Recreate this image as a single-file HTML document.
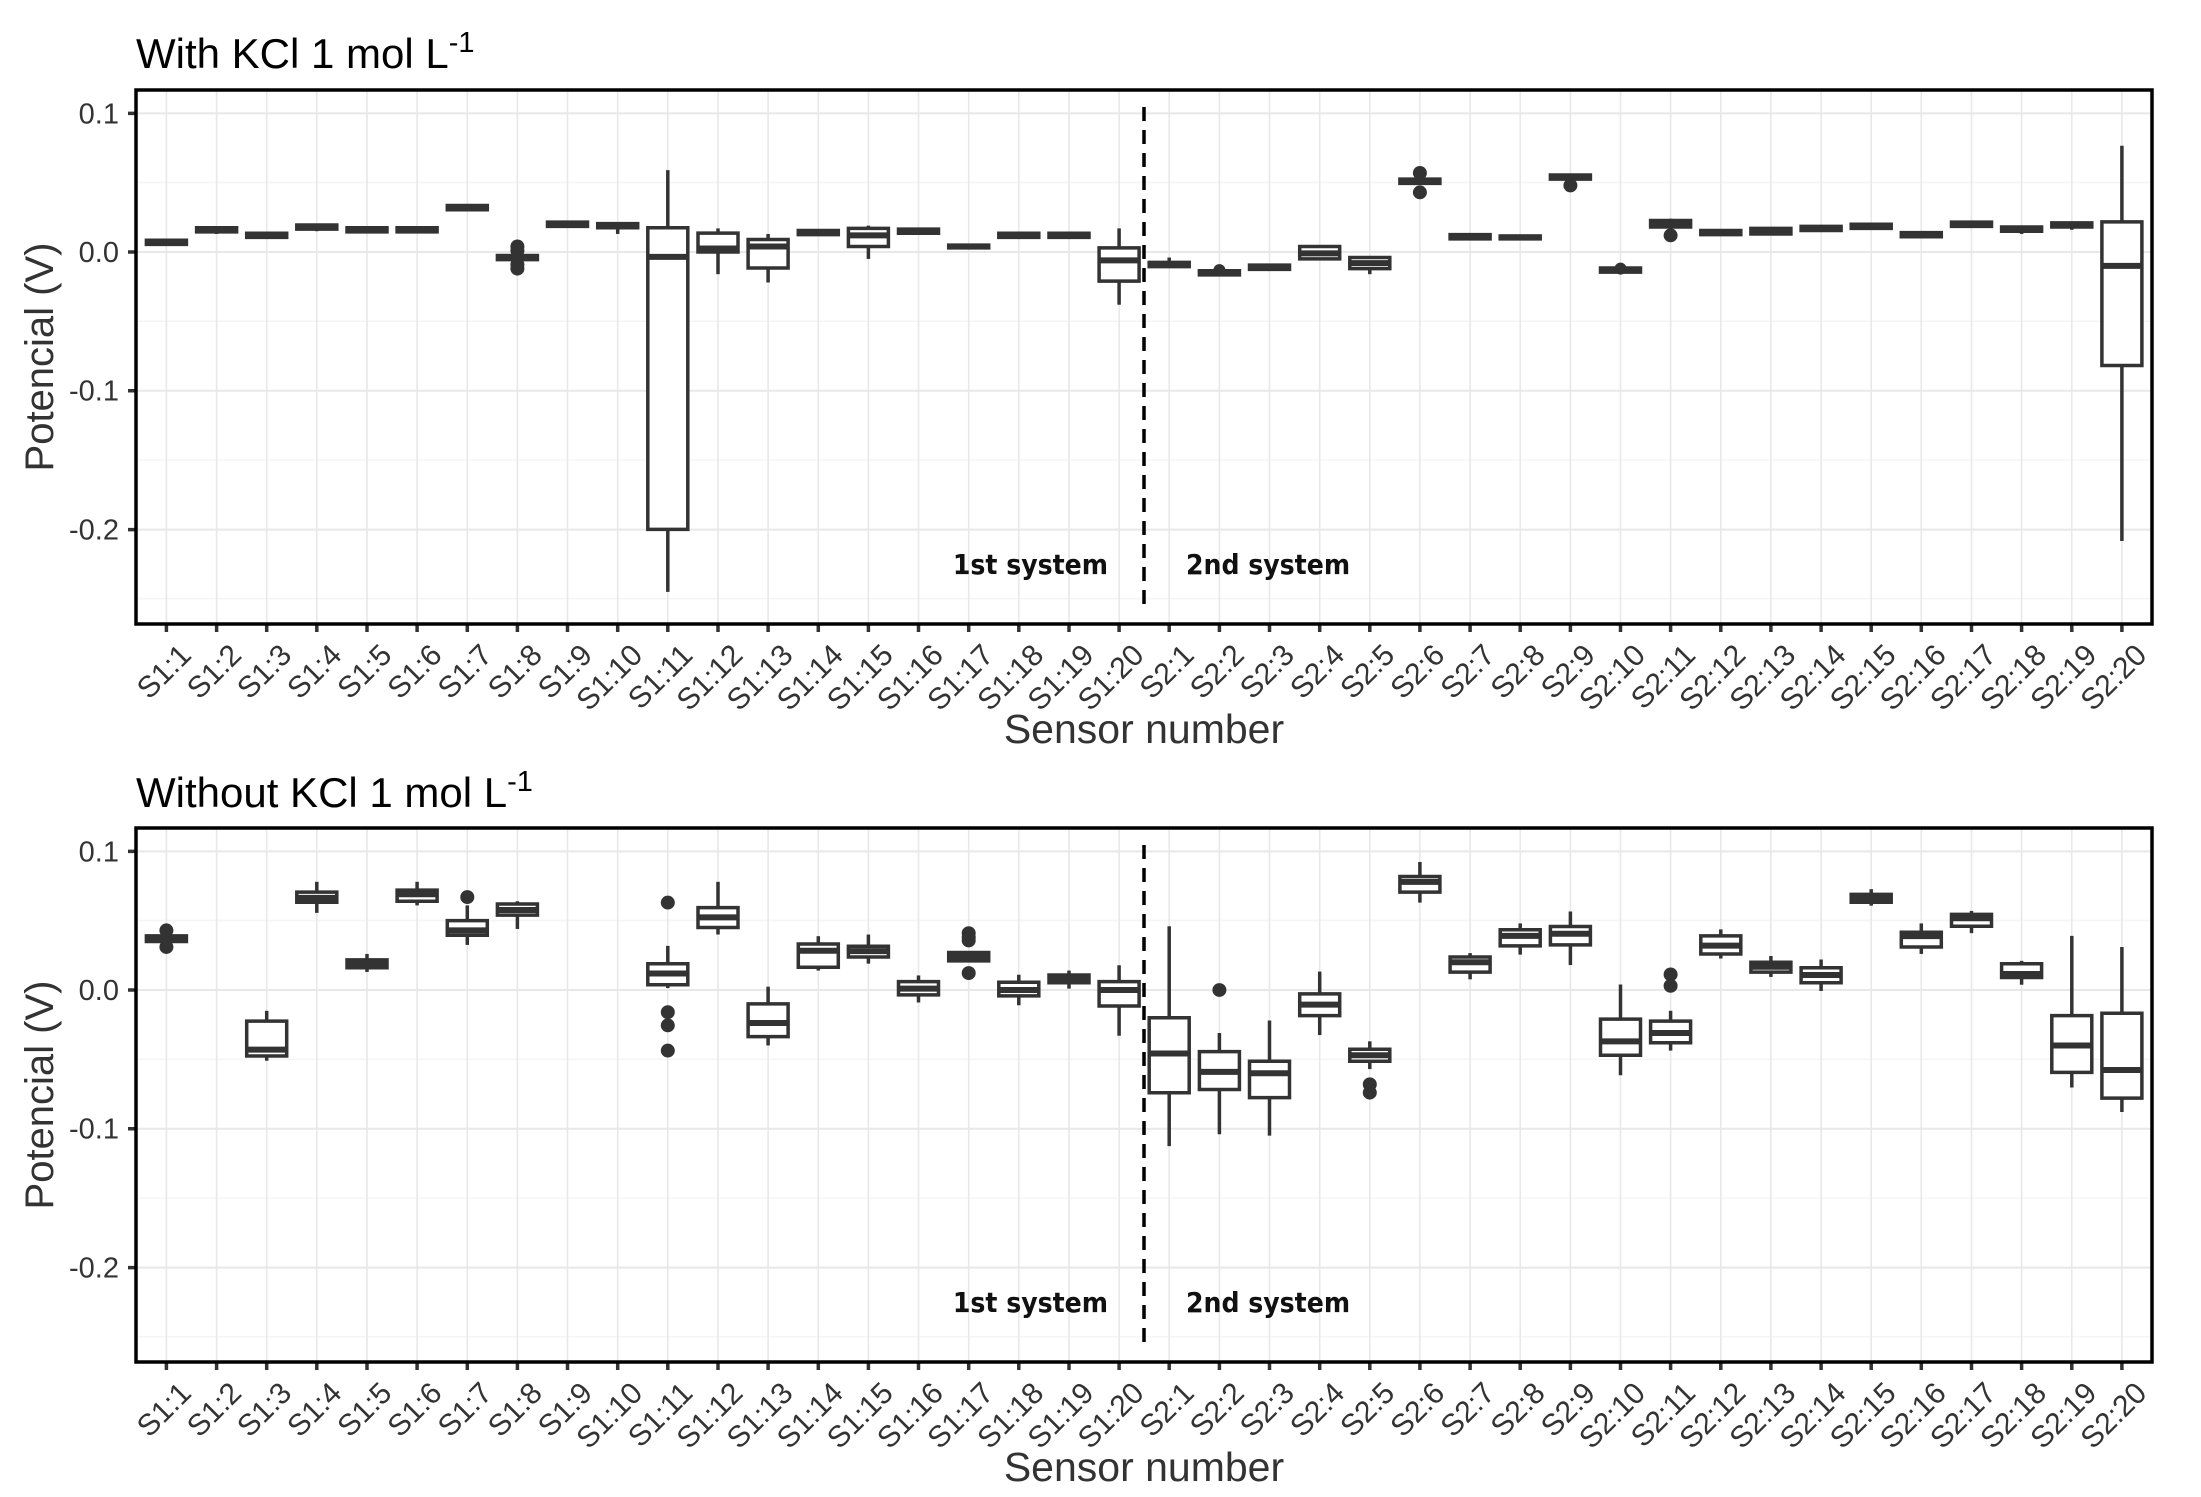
<!DOCTYPE html>
<html><head><meta charset="utf-8"><style>
html,body{margin:0;padding:0;background:#fff}
svg{display:block}
.t{font-family:"Liberation Sans",sans-serif}
.b rect{fill:#fff;stroke:#333;stroke-width:3.5;vector-effect:non-scaling-stroke}
.b line{stroke:#333;stroke-width:3.5;vector-effect:non-scaling-stroke}
.b line.m{stroke-width:6}
.b ellipse{fill:#333}
.sys{font-family:'DejaVu Sans Condensed','Liberation Sans Narrow','Liberation Sans',sans-serif;font-weight:600}
</style></head><body>
<svg width="2201" height="1497" viewBox="0 0 2201 1497" xmlns="http://www.w3.org/2000/svg">
<defs>
<g id="frame">
  <rect x="136" y="90" width="2016" height="534" fill="#fff"/>
  <g stroke="#f5f5f5" stroke-width="1.5">
    <line x1="136" x2="2152" y1="182.5" y2="182.5"/><line x1="136" x2="2152" y1="321.2" y2="321.2"/>
    <line x1="136" x2="2152" y1="460" y2="460"/><line x1="136" x2="2152" y1="598.6" y2="598.6"/>
  </g>
  <g stroke="#e8e8e8" stroke-width="2">
    <line x1="136" x2="2152" y1="113.4" y2="113.4"/><line x1="136" x2="2152" y1="252" y2="252"/>
    <line x1="136" x2="2152" y1="390.7" y2="390.7"/><line x1="136" x2="2152" y1="529.6" y2="529.6"/>
  </g>
  <g stroke="#e8e8e8" stroke-width="1.6">
    <path d="M166.4 90V624M216.6 90V624M266.7 90V624M316.8 90V624M367 90V624M417.1 90V624M467.3 90V624M517.4 90V624M567.5 90V624M617.7 90V624M667.8 90V624M718 90V624M768.1 90V624M818.3 90V624M868.4 90V624M918.5 90V624M968.7 90V624M1018.8 90V624M1069 90V624M1119.1 90V624M1169.2 90V624M1219.4 90V624M1269.5 90V624M1319.7 90V624M1369.8 90V624M1419.9 90V624M1470.1 90V624M1520.2 90V624M1570.4 90V624M1620.5 90V624M1670.6 90V624M1720.8 90V624M1770.9 90V624M1821.1 90V624M1871.2 90V624M1921.3 90V624M1971.5 90V624M2021.6 90V624M2071.8 90V624M2121.9 90V624"/>
  </g>
  <g stroke="#333" stroke-width="3.5">
    <path d="M128 113.4H136M128 252H136M128 390.7H136M128 529.6H136"/>
    <path d="M166.4 624V632M216.6 624V632M266.7 624V632M316.8 624V632M367 624V632M417.1 624V632M467.3 624V632M517.4 624V632M567.5 624V632M617.7 624V632M667.8 624V632M718 624V632M768.1 624V632M818.3 624V632M868.4 624V632M918.5 624V632M968.7 624V632M1018.8 624V632M1069 624V632M1119.1 624V632M1169.2 624V632M1219.4 624V632M1269.5 624V632M1319.7 624V632M1369.8 624V632M1419.9 624V632M1470.1 624V632M1520.2 624V632M1570.4 624V632M1620.5 624V632M1670.6 624V632M1720.8 624V632M1770.9 624V632M1821.1 624V632M1871.2 624V632M1921.3 624V632M1971.5 624V632M2021.6 624V632M2071.8 624V632M2121.9 624V632"/>
  </g>
  <g class="t" font-size="29" fill="#333" text-anchor="end">
    <text x="119" y="123.5">0.1</text><text x="119" y="262">0.0</text>
    <text x="119" y="400.7">-0.1</text><text x="119" y="539.6">-0.2</text>
  </g>
  <text class="t" font-size="40" fill="#333" text-anchor="middle" transform="translate(53,357) rotate(-90)">Potencial (V)</text>
  <text class="t" font-size="41" fill="#333" text-anchor="middle" x="1144" y="743">Sensor number</text>
  <g class="t" font-size="30" fill="#333" text-anchor="end">
    <text transform="translate(178,642) rotate(-45)" dy="0.7em">S1:1</text>
    <text transform="translate(228.2,642) rotate(-45)" dy="0.7em">S1:2</text>
    <text transform="translate(278.3,642) rotate(-45)" dy="0.7em">S1:3</text>
    <text transform="translate(328.4,642) rotate(-45)" dy="0.7em">S1:4</text>
    <text transform="translate(378.6,642) rotate(-45)" dy="0.7em">S1:5</text>
    <text transform="translate(428.7,642) rotate(-45)" dy="0.7em">S1:6</text>
    <text transform="translate(478.9,642) rotate(-45)" dy="0.7em">S1:7</text>
    <text transform="translate(529,642) rotate(-45)" dy="0.7em">S1:8</text>
    <text transform="translate(579.1,642) rotate(-45)" dy="0.7em">S1:9</text>
    <text transform="translate(629.3,642) rotate(-45)" dy="0.7em">S1:10</text>
    <text transform="translate(679.4,642) rotate(-45)" dy="0.7em">S1:11</text>
    <text transform="translate(729.6,642) rotate(-45)" dy="0.7em">S1:12</text>
    <text transform="translate(779.7,642) rotate(-45)" dy="0.7em">S1:13</text>
    <text transform="translate(829.9,642) rotate(-45)" dy="0.7em">S1:14</text>
    <text transform="translate(880,642) rotate(-45)" dy="0.7em">S1:15</text>
    <text transform="translate(930.1,642) rotate(-45)" dy="0.7em">S1:16</text>
    <text transform="translate(980.3,642) rotate(-45)" dy="0.7em">S1:17</text>
    <text transform="translate(1030.4,642) rotate(-45)" dy="0.7em">S1:18</text>
    <text transform="translate(1080.6,642) rotate(-45)" dy="0.7em">S1:19</text>
    <text transform="translate(1130.7,642) rotate(-45)" dy="0.7em">S1:20</text>
    <text transform="translate(1180.8,642) rotate(-45)" dy="0.7em">S2:1</text>
    <text transform="translate(1231,642) rotate(-45)" dy="0.7em">S2:2</text>
    <text transform="translate(1281.1,642) rotate(-45)" dy="0.7em">S2:3</text>
    <text transform="translate(1331.3,642) rotate(-45)" dy="0.7em">S2:4</text>
    <text transform="translate(1381.4,642) rotate(-45)" dy="0.7em">S2:5</text>
    <text transform="translate(1431.5,642) rotate(-45)" dy="0.7em">S2:6</text>
    <text transform="translate(1481.7,642) rotate(-45)" dy="0.7em">S2:7</text>
    <text transform="translate(1531.8,642) rotate(-45)" dy="0.7em">S2:8</text>
    <text transform="translate(1582,642) rotate(-45)" dy="0.7em">S2:9</text>
    <text transform="translate(1632.1,642) rotate(-45)" dy="0.7em">S2:10</text>
    <text transform="translate(1682.2,642) rotate(-45)" dy="0.7em">S2:11</text>
    <text transform="translate(1732.4,642) rotate(-45)" dy="0.7em">S2:12</text>
    <text transform="translate(1782.5,642) rotate(-45)" dy="0.7em">S2:13</text>
    <text transform="translate(1832.7,642) rotate(-45)" dy="0.7em">S2:14</text>
    <text transform="translate(1882.8,642) rotate(-45)" dy="0.7em">S2:15</text>
    <text transform="translate(1932.9,642) rotate(-45)" dy="0.7em">S2:16</text>
    <text transform="translate(1983.1,642) rotate(-45)" dy="0.7em">S2:17</text>
    <text transform="translate(2033.2,642) rotate(-45)" dy="0.7em">S2:18</text>
    <text transform="translate(2083.4,642) rotate(-45)" dy="0.7em">S2:19</text>
    <text transform="translate(2133.5,642) rotate(-45)" dy="0.7em">S2:20</text>
  </g>
  <line x1="1144" x2="1144" y1="107" y2="606" stroke="#000" stroke-width="3.5" stroke-dasharray="14,9"/>
  <text class="sys" font-size="28" fill="#111" text-anchor="end" x="1108" y="574">1st system</text>
  <text class="sys" font-size="28" fill="#111" x="1186" y="574">2nd system</text>
</g>
</defs>

<!-- TOP PANEL -->
<use href="#frame"/>
<text class="t" font-size="42" fill="#000" x="136" y="68">With KCl 1 mol L<tspan dy="-16" font-size="29">-1</tspan></text>
<g class="b" transform="translate(0,252) scale(1,-1387)">
<line x1="166.4" x2="166.4" y1="0.006" y2="0.008"/><rect x="146.4" y="0.0055" width="40" height="0.003"/><line class="m" x1="146.4" x2="186.4" y1="0.007" y2="0.007"/>
<line x1="216.6" x2="216.6" y1="0.013" y2="0.017"/><rect x="196.6" y="0.0145" width="40" height="0.003"/><line class="m" x1="196.6" x2="236.6" y1="0.016" y2="0.016"/>
<rect x="246.7" y="0.0105" width="40" height="0.003"/><line class="m" x1="246.7" x2="286.7" y1="0.012" y2="0.012"/>
<line x1="316.8" x2="316.8" y1="0.015" y2="0.019"/><rect x="296.8" y="0.0165" width="40" height="0.003"/><line class="m" x1="296.8" x2="336.8" y1="0.018" y2="0.018"/>
<rect x="347" y="0.0145" width="40" height="0.003"/><line class="m" x1="347" x2="387" y1="0.016" y2="0.016"/>
<rect x="397.1" y="0.0145" width="40" height="0.003"/><line class="m" x1="397.1" x2="437.1" y1="0.016" y2="0.016"/>
<rect x="447.3" y="0.0305" width="40" height="0.003"/><line class="m" x1="447.3" x2="487.3" y1="0.032" y2="0.032"/>
<rect x="497.4" y="-0.0055" width="40" height="0.003"/><line class="m" x1="497.4" x2="537.4" y1="-0.004" y2="-0.004"/>
<ellipse cx="517.4" cy="0.004" rx="7" ry="0.005"/><ellipse cx="517.4" cy="0.001" rx="7" ry="0.005"/><ellipse cx="517.4" cy="-0.009" rx="7" ry="0.005"/><ellipse cx="517.4" cy="-0.012" rx="7" ry="0.005"/>
<rect x="547.5" y="0.0185" width="40" height="0.003"/><line class="m" x1="547.5" x2="587.5" y1="0.020" y2="0.020"/>
<line x1="617.7" x2="617.7" y1="0.013" y2="0.02"/><rect x="597.7" y="0.0175" width="40" height="0.003"/><line class="m" x1="597.7" x2="637.7" y1="0.019" y2="0.019"/>
<line x1="667.8" x2="667.8" y1="-0.245" y2="0.059"/><rect x="647.8" y="-0.2" width="40" height="0.2175"/><line class="m" x1="647.8" x2="687.8" y1="-0.0035" y2="-0.0035"/>
<line x1="718" x2="718" y1="-0.016" y2="0.017"/><rect x="698" y="0" width="40" height="0.0136"/><line class="m" x1="698" x2="738" y1="0.0025" y2="0.0025"/>
<line x1="768.1" x2="768.1" y1="-0.022" y2="0.013"/><rect x="748.1" y="-0.0115" width="40" height="0.0205"/><line class="m" x1="748.1" x2="788.1" y1="0.004" y2="0.004"/>
<rect x="798.3" y="0.0125" width="40" height="0.003"/><line class="m" x1="798.3" x2="838.3" y1="0.014" y2="0.014"/>
<line x1="868.4" x2="868.4" y1="-0.005" y2="0.019"/><rect x="848.4" y="0.004" width="40" height="0.013"/><line class="m" x1="848.4" x2="888.4" y1="0.012" y2="0.012"/>
<rect x="898.5" y="0.0135" width="40" height="0.003"/><line class="m" x1="898.5" x2="938.5" y1="0.015" y2="0.015"/>
<rect x="948.7" y="0.003" width="40" height="0.002"/><line class="m" x1="948.7" x2="988.7" y1="0.004" y2="0.004"/>
<rect x="998.8" y="0.0105" width="40" height="0.003"/><line class="m" x1="998.8" x2="1038.8" y1="0.012" y2="0.012"/>
<rect x="1049" y="0.0105" width="40" height="0.003"/><line class="m" x1="1049" x2="1089" y1="0.012" y2="0.012"/>
<line x1="1119.1" x2="1119.1" y1="-0.038" y2="0.017"/><rect x="1099.1" y="-0.021" width="40" height="0.024"/><line class="m" x1="1099.1" x2="1139.1" y1="-0.006" y2="-0.006"/>
<line x1="1169.2" x2="1169.2" y1="-0.011" y2="-0.004"/><rect x="1149.2" y="-0.0105" width="40" height="0.003"/><line class="m" x1="1149.2" x2="1189.2" y1="-0.009" y2="-0.009"/>
<rect x="1199.4" y="-0.0165" width="40" height="0.003"/><line class="m" x1="1199.4" x2="1239.4" y1="-0.015" y2="-0.015"/><ellipse cx="1219.4" cy="-0.013" rx="6" ry="0.0043"/>
<rect x="1249.5" y="-0.0125" width="40" height="0.003"/><line class="m" x1="1249.5" x2="1289.5" y1="-0.011" y2="-0.011"/>
<line x1="1319.7" x2="1319.7" y1="-0.006" y2="0.005"/><rect x="1299.7" y="-0.005" width="40" height="0.009"/><line class="m" x1="1299.7" x2="1339.7" y1="-0.001" y2="-0.001"/>
<line x1="1369.8" x2="1369.8" y1="-0.016" y2="-0.004"/><rect x="1349.8" y="-0.012" width="40" height="0.008"/><line class="m" x1="1349.8" x2="1389.8" y1="-0.008" y2="-0.008"/>
<rect x="1399.9" y="0.0495" width="40" height="0.003"/><line class="m" x1="1399.9" x2="1439.9" y1="0.051" y2="0.051"/><ellipse cx="1419.9" cy="0.057" rx="7" ry="0.005"/><ellipse cx="1419.9" cy="0.043" rx="7" ry="0.005"/>
<rect x="1450.1" y="0.0095" width="40" height="0.003"/><line class="m" x1="1450.1" x2="1490.1" y1="0.011" y2="0.011"/>
<rect x="1500.2" y="0.0095" width="40" height="0.002"/><line class="m" x1="1500.2" x2="1540.2" y1="0.0105" y2="0.0105"/>
<rect x="1550.4" y="0.0525" width="40" height="0.003"/><line class="m" x1="1550.4" x2="1590.4" y1="0.054" y2="0.054"/><ellipse cx="1570.4" cy="0.048" rx="7" ry="0.005"/>
<rect x="1600.5" y="-0.0145" width="40" height="0.003"/><line class="m" x1="1600.5" x2="1640.5" y1="-0.013" y2="-0.013"/><ellipse cx="1620.5" cy="-0.012" rx="6" ry="0.0043"/>
<line x1="1670.6" x2="1670.6" y1="0.018" y2="0.024"/><rect x="1650.6" y="0.018" width="40" height="0.0047"/><line class="m" x1="1650.6" x2="1690.6" y1="0.020" y2="0.020"/><ellipse cx="1670.6" cy="0.012" rx="7" ry="0.005"/>
<rect x="1700.8" y="0.0125" width="40" height="0.003"/><line class="m" x1="1700.8" x2="1740.8" y1="0.014" y2="0.014"/>
<line x1="1770.9" x2="1770.9" y1="0.012" y2="0.018"/><rect x="1750.9" y="0.013" width="40" height="0.004"/><line class="m" x1="1750.9" x2="1790.9" y1="0.015" y2="0.015"/>
<rect x="1801.1" y="0.0155" width="40" height="0.003"/><line class="m" x1="1801.1" x2="1841.1" y1="0.017" y2="0.017"/>
<rect x="1851.2" y="0.017" width="40" height="0.003"/><line class="m" x1="1851.2" x2="1891.2" y1="0.0185" y2="0.0185"/>
<rect x="1901.3" y="0.011" width="40" height="0.003"/><line class="m" x1="1901.3" x2="1941.3" y1="0.0126" y2="0.0126"/>
<rect x="1951.5" y="0.0185" width="40" height="0.003"/><line class="m" x1="1951.5" x2="1991.5" y1="0.020" y2="0.020"/>
<line x1="2021.6" x2="2021.6" y1="0.013" y2="0.018"/><rect x="2001.6" y="0.015" width="40" height="0.003"/><line class="m" x1="2001.6" x2="2041.6" y1="0.0165" y2="0.0165"/>
<line x1="2071.8" x2="2071.8" y1="0.016" y2="0.022"/><rect x="2051.8" y="0.018" width="40" height="0.003"/><line class="m" x1="2051.8" x2="2091.8" y1="0.0195" y2="0.0195"/>
<line x1="2121.9" x2="2121.9" y1="-0.2084" y2="0.0766"/><rect x="2101.9" y="-0.0818" width="40" height="0.1035"/><line class="m" x1="2101.9" x2="2141.9" y1="-0.010" y2="-0.010"/>
</g>
<rect x="136" y="90" width="2016" height="534" fill="none" stroke="#000" stroke-width="3.5"/>

<!-- BOTTOM PANEL -->
<use href="#frame" transform="translate(0,738)"/>
<text class="t" font-size="42" fill="#000" x="136" y="807">Without KCl 1 mol L<tspan dy="-16" font-size="29">-1</tspan></text>
<g class="b" transform="translate(0,990) scale(1,-1387)">
<line x1="166.4" x2="166.4" y1="0.033" y2="0.04"/><rect x="146.4" y="0.035" width="40" height="0.004"/><line class="m" x1="146.4" x2="186.4" y1="0.037" y2="0.037"/><ellipse cx="166.4" cy="0.043" rx="7" ry="0.005"/><ellipse cx="166.4" cy="0.031" rx="7" ry="0.005"/>
<line x1="266.7" x2="266.7" y1="-0.051" y2="-0.015"/><rect x="246.7" y="-0.0476" width="40" height="0.0252"/><line class="m" x1="246.7" x2="286.7" y1="-0.043" y2="-0.043"/>
<line x1="316.8" x2="316.8" y1="0.0556" y2="0.078"/><rect x="296.8" y="0.0633" width="40" height="0.0073"/><line class="m" x1="296.8" x2="336.8" y1="0.0664" y2="0.0664"/>
<line x1="367" x2="367" y1="0.013" y2="0.026"/><rect x="347" y="0.016" width="40" height="0.0057"/><line class="m" x1="347" x2="387" y1="0.019" y2="0.019"/>
<line x1="417.1" x2="417.1" y1="0.061" y2="0.078"/><rect x="397.1" y="0.064" width="40" height="0.008"/><line class="m" x1="397.1" x2="437.1" y1="0.069" y2="0.069"/>
<line x1="467.3" x2="467.3" y1="0.0325" y2="0.061"/><rect x="447.3" y="0.0395" width="40" height="0.0105"/><line class="m" x1="447.3" x2="487.3" y1="0.043" y2="0.043"/><ellipse cx="467.3" cy="0.067" rx="7" ry="0.005"/>
<line x1="517.4" x2="517.4" y1="0.044" y2="0.064"/><rect x="497.4" y="0.054" width="40" height="0.008"/><line class="m" x1="497.4" x2="537.4" y1="0.0577" y2="0.0577"/>
<line x1="667.8" x2="667.8" y1="0.0014" y2="0.0318"/><rect x="647.8" y="0.0038" width="40" height="0.0151"/><line class="m" x1="647.8" x2="687.8" y1="0.0119" y2="0.0119"/>
<ellipse cx="667.8" cy="0.063" rx="7" ry="0.005"/><ellipse cx="667.8" cy="-0.016" rx="7" ry="0.005"/><ellipse cx="667.8" cy="-0.0255" rx="7" ry="0.005"/><ellipse cx="667.8" cy="-0.0437" rx="7" ry="0.005"/>
<line x1="718" x2="718" y1="0.040" y2="0.078"/><rect x="698" y="0.0451" width="40" height="0.0143"/><line class="m" x1="698" x2="738" y1="0.0524" y2="0.0524"/>
<line x1="768.1" x2="768.1" y1="-0.040" y2="0.0024"/><rect x="748.1" y="-0.0336" width="40" height="0.0236"/><line class="m" x1="748.1" x2="788.1" y1="-0.0238" y2="-0.0238"/>
<line x1="818.3" x2="818.3" y1="0.014" y2="0.0388"/><rect x="798.3" y="0.0164" width="40" height="0.0168"/><line class="m" x1="798.3" x2="838.3" y1="0.0283" y2="0.0283"/>
<line x1="868.4" x2="868.4" y1="0.019" y2="0.040"/><rect x="848.4" y="0.0238" width="40" height="0.0077"/><line class="m" x1="848.4" x2="888.4" y1="0.028" y2="0.028"/>
<line x1="918.5" x2="918.5" y1="-0.009" y2="0.0105"/><rect x="898.5" y="-0.0035" width="40" height="0.0095"/><line class="m" x1="898.5" x2="938.5" y1="0.001" y2="0.001"/>
<line x1="968.7" x2="968.7" y1="0.021" y2="0.027"/><rect x="948.7" y="0.021" width="40" height="0.006"/><line class="m" x1="948.7" x2="988.7" y1="0.0238" y2="0.0238"/>
<ellipse cx="968.7" cy="0.041" rx="7" ry="0.005"/><ellipse cx="968.7" cy="0.038" rx="7" ry="0.005"/><ellipse cx="968.7" cy="0.0357" rx="7" ry="0.005"/><ellipse cx="968.7" cy="0.0122" rx="7" ry="0.005"/>
<line x1="1018.8" x2="1018.8" y1="-0.011" y2="0.011"/><rect x="998.8" y="-0.0042" width="40" height="0.0098"/><line class="m" x1="998.8" x2="1038.8" y1="0" y2="0"/>
<line x1="1069" x2="1069" y1="0.001" y2="0.014"/><rect x="1049" y="0.0052" width="40" height="0.0056"/><line class="m" x1="1049" x2="1089" y1="0.008" y2="0.008"/>
<line x1="1119.1" x2="1119.1" y1="-0.033" y2="0.0178"/><rect x="1099.1" y="-0.0115" width="40" height="0.0175"/><line class="m" x1="1099.1" x2="1139.1" y1="0" y2="0"/>
<line x1="1169.2" x2="1169.2" y1="-0.1126" y2="0.046"/><rect x="1149.2" y="-0.0741" width="40" height="0.0541"/><line class="m" x1="1149.2" x2="1189.2" y1="-0.0458" y2="-0.0458"/>
<line x1="1219.4" x2="1219.4" y1="-0.104" y2="-0.031"/><rect x="1199.4" y="-0.0717" width="40" height="0.0273"/><line class="m" x1="1199.4" x2="1239.4" y1="-0.059" y2="-0.059"/><ellipse cx="1219.4" cy="0" rx="7" ry="0.005"/>
<line x1="1269.5" x2="1269.5" y1="-0.105" y2="-0.022"/><rect x="1249.5" y="-0.0776" width="40" height="0.0262"/><line class="m" x1="1249.5" x2="1289.5" y1="-0.06" y2="-0.06"/>
<line x1="1319.7" x2="1319.7" y1="-0.0325" y2="0.0133"/><rect x="1299.7" y="-0.0185" width="40" height="0.0157"/><line class="m" x1="1299.7" x2="1339.7" y1="-0.0105" y2="-0.0105"/>
<line x1="1369.8" x2="1369.8" y1="-0.057" y2="-0.037"/><rect x="1349.8" y="-0.0514" width="40" height="0.0087"/><line class="m" x1="1349.8" x2="1389.8" y1="-0.047" y2="-0.047"/><ellipse cx="1369.8" cy="-0.068" rx="7" ry="0.005"/><ellipse cx="1369.8" cy="-0.074" rx="7" ry="0.005"/>
<line x1="1419.9" x2="1419.9" y1="0.063" y2="0.0923"/><rect x="1399.9" y="0.0706" width="40" height="0.0112"/><line class="m" x1="1399.9" x2="1439.9" y1="0.078" y2="0.078"/>
<line x1="1470.1" x2="1470.1" y1="0.0077" y2="0.0266"/><rect x="1450.1" y="0.0129" width="40" height="0.0109"/><line class="m" x1="1450.1" x2="1490.1" y1="0.02" y2="0.02"/>
<line x1="1520.2" x2="1520.2" y1="0.0255" y2="0.048"/><rect x="1500.2" y="0.0318" width="40" height="0.0116"/><line class="m" x1="1500.2" x2="1540.2" y1="0.039" y2="0.039"/>
<line x1="1570.4" x2="1570.4" y1="0.018" y2="0.0566"/><rect x="1550.4" y="0.0325" width="40" height="0.0133"/><line class="m" x1="1550.4" x2="1590.4" y1="0.0406" y2="0.0406"/>
<line x1="1620.5" x2="1620.5" y1="-0.0615" y2="0.004"/><rect x="1600.5" y="-0.047" width="40" height="0.026"/><line class="m" x1="1600.5" x2="1640.5" y1="-0.037" y2="-0.037"/>
<line x1="1670.6" x2="1670.6" y1="-0.0437" y2="-0.015"/><rect x="1650.6" y="-0.038" width="40" height="0.0156"/><line class="m" x1="1650.6" x2="1690.6" y1="-0.031" y2="-0.031"/><ellipse cx="1670.6" cy="0.0112" rx="7" ry="0.005"/><ellipse cx="1670.6" cy="0.003" rx="7" ry="0.005"/>
<line x1="1720.8" x2="1720.8" y1="0.0227" y2="0.0437"/><rect x="1700.8" y="0.026" width="40" height="0.013"/><line class="m" x1="1700.8" x2="1740.8" y1="0.032" y2="0.032"/>
<line x1="1770.9" x2="1770.9" y1="0.0094" y2="0.0245"/><rect x="1750.9" y="0.0129" width="40" height="0.0071"/><line class="m" x1="1750.9" x2="1790.9" y1="0.0168" y2="0.0168"/>
<line x1="1821.1" x2="1821.1" y1="-0.0007" y2="0.022"/><rect x="1801.1" y="0.0052" width="40" height="0.0108"/><line class="m" x1="1801.1" x2="1841.1" y1="0.0108" y2="0.0108"/>
<line x1="1871.2" x2="1871.2" y1="0.0608" y2="0.0727"/><rect x="1851.2" y="0.0633" width="40" height="0.0056"/><line class="m" x1="1851.2" x2="1891.2" y1="0.0657" y2="0.0657"/>
<line x1="1921.3" x2="1921.3" y1="0.026" y2="0.048"/><rect x="1901.3" y="0.031" width="40" height="0.0106"/><line class="m" x1="1901.3" x2="1941.3" y1="0.0388" y2="0.0388"/>
<line x1="1971.5" x2="1971.5" y1="0.041" y2="0.057"/><rect x="1951.5" y="0.046" width="40" height="0.0085"/><line class="m" x1="1951.5" x2="1991.5" y1="0.0517" y2="0.0517"/>
<line x1="2021.6" x2="2021.6" y1="0.0038" y2="0.021"/><rect x="2001.6" y="0.009" width="40" height="0.0099"/><line class="m" x1="2001.6" x2="2041.6" y1="0.0115" y2="0.0115"/>
<line x1="2071.8" x2="2071.8" y1="-0.0703" y2="0.039"/><rect x="2051.8" y="-0.0594" width="40" height="0.0409"/><line class="m" x1="2051.8" x2="2091.8" y1="-0.04" y2="-0.04"/>
<line x1="2121.9" x2="2121.9" y1="-0.088" y2="0.031"/><rect x="2101.9" y="-0.078" width="40" height="0.0612"/><line class="m" x1="2101.9" x2="2141.9" y1="-0.0577" y2="-0.0577"/>
</g>
<rect x="136" y="828" width="2016" height="534" fill="none" stroke="#000" stroke-width="3.5"/>
</svg>
</body></html>
